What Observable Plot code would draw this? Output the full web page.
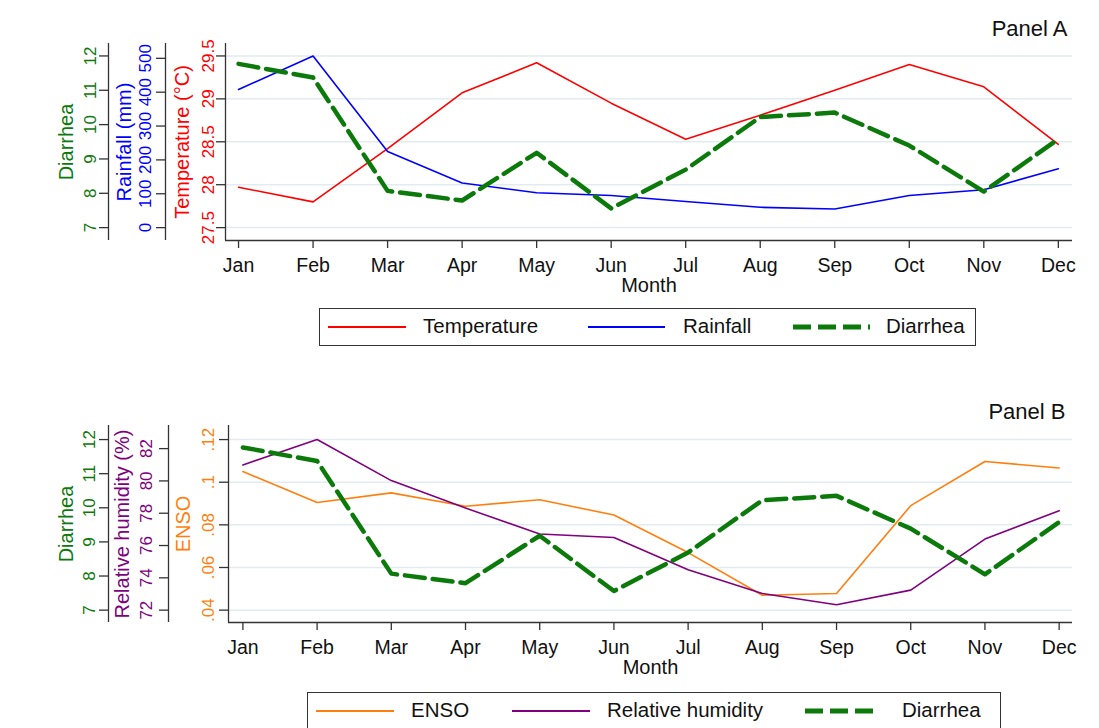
<!DOCTYPE html>
<html><head><meta charset="utf-8">
<script src="https://cdn.jsdelivr.net/npm/d3@7"></script>
<script src="https://cdn.jsdelivr.net/npm/@observablehq/plot@0.6"></script>
<style>
body{margin:0;background:#fff;font-family:"Liberation Sans",Arial,sans-serif;}
#wrap{position:relative;width:1099px;height:728px;overflow:hidden;background:#fff}
.panel{position:absolute;left:0}
.legend{position:absolute;box-sizing:border-box;border:1.5px solid #333;background:#fff}
.legend svg{position:absolute}
.legend span{position:absolute;font-size:20.5px;color:#111;line-height:22px;white-space:nowrap}
</style></head><body><div id="wrap"></div>
<script>
// ---------------- data ----------------
const months = ["Jan","Feb","Mar","Apr","May","Jun","Jul","Aug","Sep","Oct","Nov","Dec"];
const temperature = [27.97, 27.80, 28.42, 29.07, 29.42, 28.95, 28.53, 28.81, 29.10, 29.40, 29.14, 28.47];
const rainfall    = [408, 507, 225, 132, 103, 95, 77, 60, 55, 95, 112, 174];
const diarrhea    = [11.77, 11.37, 8.07, 7.79, 9.18, 7.56, 8.69, 10.22, 10.35, 9.39, 8.05, 9.58];
const enso        = [0.105, 0.0905, 0.095, 0.0887, 0.0918, 0.0846, 0.067, 0.047, 0.0478, 0.089, 0.1097, 0.1067];
const humidity    = [80.99, 82.56, 80.02, 78.32, 76.71, 76.50, 74.50, 73.03, 72.33, 73.24, 76.40, 78.16];

const diarrheaTicks    = [7, 8, 9, 10, 11, 12];
const rainfallTicks    = [0, 100, 200, 300, 400, 500];
const temperatureTicks = [27.5, 28, 28.5, 29, 29.5];
const humidityTicks    = [72, 74, 76, 78, 80, 82];
const ensoTicks        = [0.04, 0.06, 0.08, 0.1, 0.12];

const legendA = ["Temperature", "Rainfall", "Diarrhea"];
const legendB = ["ENSO", "Relative humidity", "Diarrhea"];

// ---------------- style ----------------
const FONT = "'Liberation Sans', Arial, sans-serif";
const RED = "#ff0000", BLUE = "#0000ff", GREEN = "#0b7a0b", ORANGE = "#ff7f0e", PURPLE = "#800080";
const AXIS = "#333", GRID = "#e1ebf0", TEXT = "#111";
const DASH = "20,8";

const rows = months.map((m, i) => ({i, m, temperature: temperature[i], rainfall: rainfall[i],
  diarrhea: diarrhea[i], enso: enso[i], humidity: humidity[i]}));

function fmtEnso(v) { return String(+v.toFixed(2)).replace(/^0/, ""); }

// a y axis drawn at an offset to the left of the frame
function yAxis(ticks, toMain, fmt, color, dx, tickPadding, xmin) {
  const pos = ticks.map(toMain);
  const lab = new Map(pos.map((p, k) => [p, fmt(ticks[k])]));
  return [
    Plot.ruleX([xmin], {dx, stroke: AXIS, strokeWidth: 1.3}),
    Plot.axisY(pos, {anchor: "left", dx, tickSize: 9, tickPadding, tickRotate: -90,
      textAnchor: "middle", lineAnchor: "bottom", fontSize: 17, stroke: AXIS, fill: color,
      strokeWidth: 1.3, label: null, tickFormat: (d, k) => lab.has(d) ? lab.get(d) : fmt(ticks[k])})
  ];
}
function yTitle(txt, color, dx) {
  return Plot.text([txt], {text: d => d, frameAnchor: "left", textAnchor: "middle", lineAnchor: "middle",
    rotate: -90, dx, fill: color, fontSize: 20});
}
function commonX(xmin, ymin, title, titleDx, titleDy) {
  return [
    Plot.ruleY([ymin], {stroke: AXIS, strokeWidth: 1.3}),
    Plot.axisX(d3.range(months.length), {tickFormat: i => months[i], tickSize: 8, tickPadding: 10,
      fontSize: 19.5, stroke: AXIS, fill: TEXT, strokeWidth: 1.3, label: null}),
    Plot.text(["Month"], {text: d => d, frameAnchor: "bottom", lineAnchor: "middle", dy: 45, fontSize: 20, fill: TEXT}),
    Plot.text([title], {text: d => d, frameAnchor: "top-right", textAnchor: "end", lineAnchor: "middle",
      dx: titleDx, dy: titleDy, fontSize: 22, fill: TEXT})
  ];
}

const wrap = document.getElementById("wrap");

// ---------------- Panel A ----------------
{
  const xDom = [-0.175, 11.19];
  const yDom = [27.35, 29.645];
  const diarToMain = d3.scaleLinear([7, 12], [27.5, 29.5]);
  const rainToMain = d3.scaleLinear([0, d3.max(rainfall)], [27.5, 29.5]);
  const tempToMain = v => v;
  const chart = Plot.plot({
    width: 1099, height: 300,
    marginLeft: 225, marginRight: 27, marginTop: 43, marginBottom: 60,
    style: {fontFamily: FONT, background: "transparent", overflow: "visible"},
    x: {type: "linear", domain: xDom},
    y: {domain: yDom},
    marks: [
      Plot.gridY(temperatureTicks, {stroke: GRID, strokeOpacity: 1, strokeWidth: 1.5}),
      ...yAxis(diarrheaTicks, diarToMain, v => String(v), GREEN, -117, 4, xDom[0]),
      ...yAxis(rainfallTicks, rainToMain, v => String(v), BLUE, -60, 6, xDom[0]),
      ...yAxis(temperatureTicks, tempToMain, v => String(v), RED, 0, 3, xDom[0]),
      yTitle("Diarrhea", GREEN, -159),
      yTitle("Rainfall (mm)", BLUE, -101),
      yTitle("Temperature (°C)", RED, -43),
      ...commonX(xDom[0], yDom[0], "Panel A", -5, -15),
      Plot.line(rows, {x: "i", y: "temperature", stroke: RED, strokeWidth: 1.6}),
      Plot.line(rows, {x: "i", y: d => rainToMain(d.rainfall), stroke: BLUE, strokeWidth: 1.6}),
      Plot.line(rows, {x: "i", y: d => diarToMain(d.diarrhea), stroke: GREEN, strokeWidth: 4.5, strokeDasharray: DASH})
    ]
  });
  chart.classList.add("panel");
  chart.style.top = "0px";
  wrap.appendChild(chart);
}

// ---------------- Panel B ----------------
{
  const xDom = [-0.194, 11.18];
  const yDom = [0.0342, 0.1266];
  const diarToMain = d3.scaleLinear([7, 12], [0.04, 0.12]);
  const rhToMain = d3.scaleLinear([72, d3.max(humidity)], [0.04, 0.12]);
  const ensoToMain = v => v;
  const chart = Plot.plot({
    width: 1099, height: 300,
    marginLeft: 228, marginRight: 27, marginTop: 45, marginBottom: 58,
    style: {fontFamily: FONT, background: "transparent", overflow: "visible"},
    x: {type: "linear", domain: xDom},
    y: {domain: yDom},
    marks: [
      Plot.gridY(ensoTicks, {stroke: GRID, strokeOpacity: 1, strokeWidth: 1.5}),
      ...yAxis(diarrheaTicks, diarToMain, v => String(v), GREEN, -120, 5, xDom[0]),
      ...yAxis(humidityTicks, rhToMain, v => String(v), PURPLE, -60, 8, xDom[0]),
      ...yAxis(ensoTicks, ensoToMain, fmtEnso, ORANGE, 0, 6, xDom[0]),
      yTitle("Diarrhea", GREEN, -162),
      yTitle("Relative humidity (%)", PURPLE, -106),
      yTitle("ENSO", ORANGE, -45),
      ...commonX(xDom[0], yDom[0], "Panel B", -7, -14),
      Plot.line(rows, {x: "i", y: "enso", stroke: ORANGE, strokeWidth: 1.6}),
      Plot.line(rows, {x: "i", y: d => rhToMain(d.humidity), stroke: PURPLE, strokeWidth: 1.6}),
      Plot.line(rows, {x: "i", y: d => diarToMain(d.diarrhea), stroke: GREEN, strokeWidth: 4.5, strokeDasharray: DASH})
    ]
  });
  chart.classList.add("panel");
  chart.style.top = "380px";
  wrap.appendChild(chart);
}

// ---------------- legends ----------------
function legend(labels, colors, dashed, box, swatches, texts) {
  const div = document.createElement("div");
  div.className = "legend";
  Object.assign(div.style, {left: box[0] + "px", top: box[1] + "px", width: box[2] + "px", height: box[3] + "px"});
  labels.forEach((lab, k) => {
    const [sx, sw] = swatches[k];
    const svg = d3.create("svg").attr("width", sw).attr("height", 10)
      .style("left", sx + "px").style("top", "13px");
    svg.append("line").attr("x1", 0).attr("x2", sw).attr("y1", 5).attr("y2", 5)
      .attr("stroke", colors[k]).attr("stroke-width", dashed[k] ? 5 : 1.8)
      .attr("stroke-dasharray", dashed[k] ? "18,7" : null);
    div.appendChild(svg.node());
    const sp = document.createElement("span");
    sp.textContent = lab;
    sp.style.left = texts[k] + "px";
    sp.style.top = "6px";
    div.appendChild(sp);
  });
  wrap.appendChild(div);
}
legend(legendA, [RED, BLUE, GREEN], [false, false, true], [319, 308, 657, 38],
  [[8, 78], [268, 77], [473, 77]], [103, 363, 566]);
legend(legendB, [ORANGE, PURPLE, GREEN], [false, false, true], [307, 692, 694, 40],
  [[8, 78], [204, 78], [497, 75]], [103, 299, 594]);
</script></body></html>
